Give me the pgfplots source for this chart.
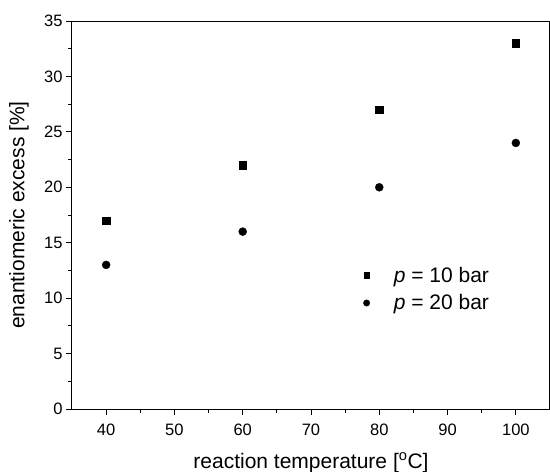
\documentclass[border=0pt]{standalone}
\usepackage{fontspec}
\setmainfont{Liberation Sans}
\usepackage{pgfplots}
\pgfplotsset{compat=1.18}

\begin{document}
\begin{tikzpicture}[x=1pt,y=1pt]
\path[use as bounding box] (-72pt,-63pt) rectangle (478pt,409pt);
\begin{axis}[
  at={(0pt,0pt)},anchor=south west,
  scale only axis,width=478pt,height=388pt,
  xmin=35,xmax=105,ymin=0,ymax=35,
  xtick={40,50,...,100},ytick={0,5,...,35},
  minor x tick num=1,minor y tick num=1,
  tick align=outside,
  xtick pos=bottom,ytick pos=left,
  major tick length=6pt,minor tick length=3.5pt,
  every tick/.style={line width=0.9pt,black},
  axis line style={line width=1pt},
  /pgf/number format/assume math mode=true,
  tick label style={font=\fontsize{16.5}{18}\selectfont},
  xticklabel style={yshift=-5pt},
  xlabel={reaction temperature [\textsuperscript{o}C]},
  ylabel={enantiomeric excess [\%]},
  label style={font=\fontsize{21}{24}\selectfont},
  xlabel style={at={(axis description cs:0.5,0)},anchor=base,yshift=-59pt},
  ylabel style={at={(axis description cs:-0.111,0.5)},anchor=center},
  legend style={draw=none,fill=none,at={(0.603,0.377)},anchor=north west,
    font=\fontsize{21}{24}\selectfont,row sep=7pt,
    legend cell align=left},
  legend image post style={scale=0.8},
]
\addplot[only marks,mark=square*,mark size=3.6pt,black] coordinates {
  (40,17) (60,22) (80,27) (100,33)};
\addplot[only marks,mark=*,mark size=4pt,black] coordinates {
  (40,13) (60,16) (80,20) (100,24)};
\legend{{\hspace{22pt}\textit{p} = 10 bar},{\hspace{22pt}\textit{p} = 20 bar}}
\end{axis}
\end{tikzpicture}
\end{document}
